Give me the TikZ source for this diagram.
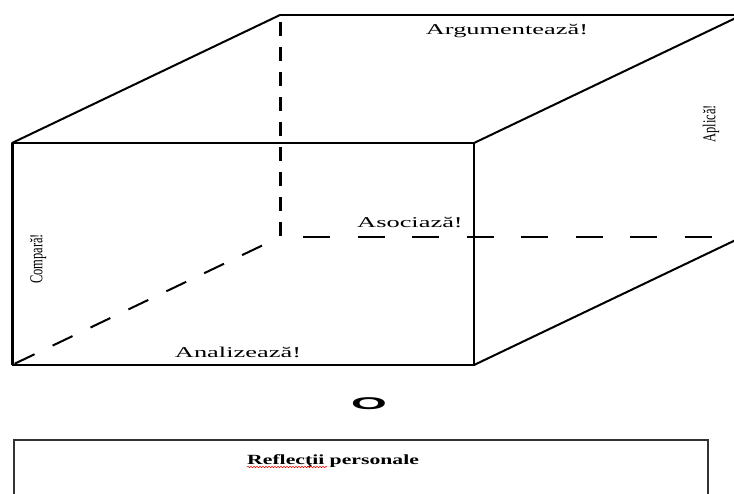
\documentclass[tikz,border=0pt]{standalone}
\usepackage{fontspec}
\setmainfont{Liberation Serif}
\newfontfamily\osans{Liberation Sans}
\usetikzlibrary{decorations.pathmorphing,calc}
\begin{document}
\begin{tikzpicture}[x=1pt,y=-1pt,
  edge/.style={line width=2pt, line cap=round, line join=round},
  hline/.style={line width=1.7pt},
  lbl/.style={inner sep=0pt, font=\fontsize{15}{18}\selectfont},
  vlbl/.style={inner sep=0pt, rotate=90, font=\fontsize{12.5}{15}\selectfont},
  boxline/.style={line width=1.5pt, draw=black!80},
  wavy/.style={red, line width=0.5pt, decorate, decoration={snake, amplitude=0.8pt, segment length=3pt}}
]
\useasboundingbox (0,0) rectangle (734,493);
\clip (0,0) rectangle (734,493);
% cube corners
\coordinate (A) at (12,143);
\coordinate (B) at (474,143);
\coordinate (C) at (474,365);
\coordinate (D) at (12,365);
\coordinate (E) at (280,15);
\coordinate (F) at (742,15);
\coordinate (G) at (742,237);
\coordinate (H) at (280,237);
% hidden edges
\draw[line width=3pt, dash pattern=on 14pt off 11pt, shorten <=7pt] (E) -- (H);
\draw[hline, dash pattern=on 27pt off 27.5pt, dash phase=31.5pt] (H) -- (G);
\draw[line width=2pt, dash pattern=on 22pt off 20pt, dash phase=22pt] (H) -- (D);
% front face
\draw[line width=1.3pt] (A) -- (B);
\draw[line width=2.2pt] (B) -- (C);
\draw[line width=2pt] (C) -- (D);
\draw[line width=3pt] (D) -- (A);
% back and connecting edges
\draw[line width=2.5pt] (E) -- (F);
\draw[edge] (A) -- (E);
\draw[edge] (B) -- (F);
\draw[edge] (C) -- (G);
% labels
\node[lbl] (arg) at (507,31) {\scalebox{1.76}[1]{Argumentează!}};
\node[lbl] (aso) at (410,222) {\scalebox{1.76}[1]{Asociază!}};
\node[lbl] (ana) at (238,352) {\scalebox{1.76}[1]{Analizează!}};
\node[vlbl] (com) at (38,259) {\scalebox{1}[1.45]{Compară!}};
\node[vlbl] (apl) at (711,124) {\scalebox{1}[1.45]{Aplică!}};
\node[inner sep=0pt, font=\osans\bfseries\fontsize{17}{20}\selectfont] (o) at (369,404) {\scalebox{2.7}[1]{O}};
% reflection box
\draw[boxline] (14,440) rectangle (708,520);
\node[inner sep=0pt, anchor=base west, font=\bfseries\fontsize{14}{17}\selectfont] (refl) at (247,464) {\scalebox{1.55}[1]{Reflecţii personale}};
\draw[wavy] ([yshift=-3pt]refl.base west) -- ++(80,0);
\end{tikzpicture}
\end{document}
